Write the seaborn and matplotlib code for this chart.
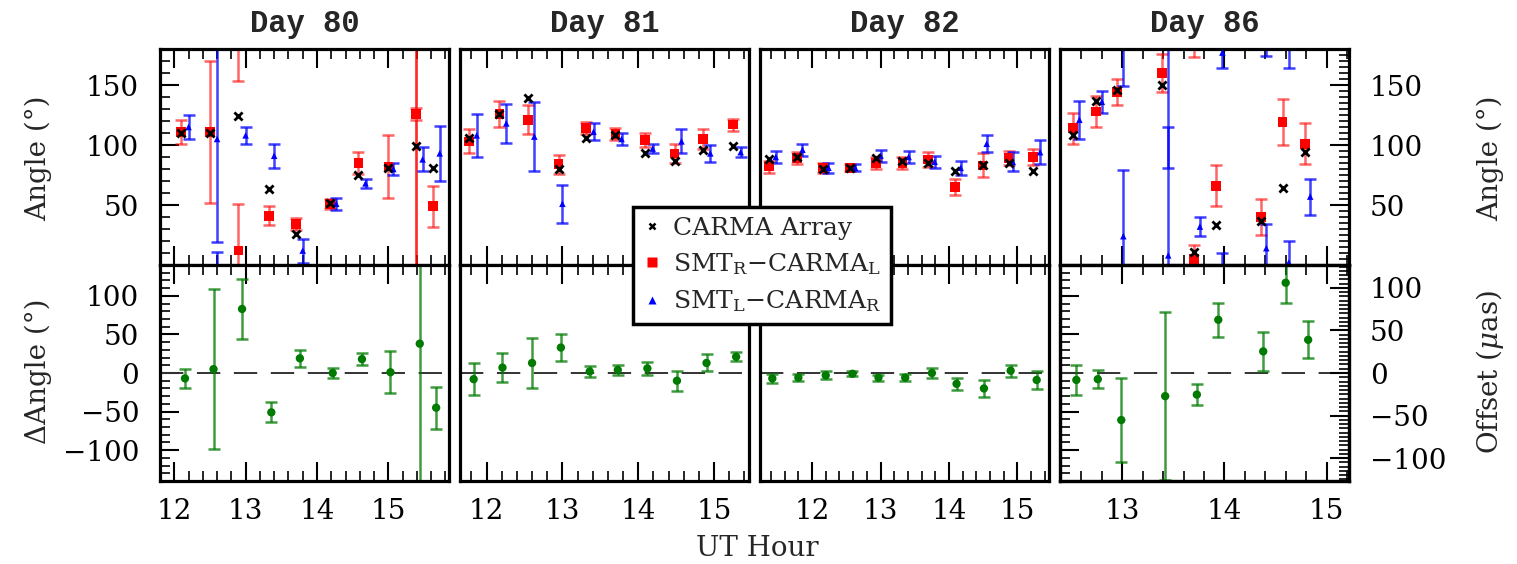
import numpy as np
import pandas as pd
import matplotlib
matplotlib.use("Agg")
import matplotlib.pyplot as plt
import seaborn as sns
from matplotlib.ticker import MultipleLocator, FixedLocator
from matplotlib.lines import Line2D

# ------------------------------------------------------------------ data
days = ["Day 80", "Day 81", "Day 82", "Day 86"]
x_limits = [(11.80, 15.85), (11.65, 15.46), (11.24, 15.46), (12.39, 15.22)]
angle_ticks = [50, 100, 150]

# Day 80
d80_red_x = [12.09, 12.50, 12.90, 13.33, 13.71, 14.18, 14.58, 15.00, 15.39, 15.63]
d80_red_y = [111, 111, 12, 41, 34, 51, 85, 82, 126, 49]
d80_red_e = [10, 59, 39, 8, 5, 4, 9, 26, 175, 17]
d80_carma_y = [110, 110, 124, 63, 26, 52, 75, 81, 99, 81]
d80_blue_x = [12.20, 12.60, 13.00, 13.40, 13.80, 14.27, 14.68, 15.07, 15.48, 15.72]
d80_blue_y = [115, 105, 108, 91, 12, 51, 68, 80, 88, 93]
d80_blue_e = [10, 86, 7, 10, 10, 5, 4, 5, 10, 23]
d80_diff_x = [12.15, 12.55, 12.95, 13.36, 13.76, 14.22, 14.63, 15.03, 15.44, 15.67]
d80_diff_y = [-7, 5, 83, -51, 19, 0, 18, 1, 38, -45]
d80_diff_e = [12, 104, 39, 13, 11, 6, 8, 27, 250, 27]

# Day 81
d81_red_x = [11.77, 12.17, 12.55, 12.95, 13.31, 13.70, 14.09, 14.48, 14.85, 15.25]
d81_red_y = [103, 126, 121, 84, 114, 109, 104, 93, 105, 117]
d81_red_e = [10, 11, 12, 8, 5, 5, 6, 8, 8, 5]
d81_carma_y = [106, 126, 139, 80, 106, 108, 93, 87, 96, 99]
d81_blue_x = [11.87, 12.26, 12.63, 13.00, 13.41, 13.78, 14.19, 14.57, 14.95, 15.35]
d81_blue_y = [108, 118, 107, 51, 111, 105, 97, 103, 93, 94]
d81_blue_e = [18, 16, 29, 16, 7, 5, 4, 10, 7, 4]
d81_diff_x = [11.83, 12.21, 12.60, 12.98, 13.36, 13.73, 14.12, 14.51, 14.90, 15.29]
d81_diff_y = [-8, 7, 13, 33, 2, 4, 6, -10, 13, 21]
d81_diff_e = [21, 19, 32, 17, 7, 6, 8, 13, 11, 6]

# Day 82
d82_red_x = [11.37, 11.78, 12.16, 12.55, 12.93, 13.32, 13.69, 14.09, 14.49, 14.87, 15.23]
d82_red_y = [82, 89, 81, 81, 85, 85, 88, 65, 83, 89, 90]
d82_red_e = [5, 5, 4, 3, 5, 5, 6, 7, 10, 6, 7]
d82_carma_y = [88, 90, 80, 81, 89, 87, 85, 78, 83, 85, 78]
d82_blue_x = [11.47, 11.86, 12.24, 12.63, 13.00, 13.41, 13.79, 14.17, 14.55, 14.93, 15.33]
d82_blue_y = [90, 96, 81, 81, 91, 90, 86, 81, 101, 86, 94]
d82_blue_e = [5, 5, 4, 3, 5, 5, 5, 6, 7, 8, 10]
d82_diff_x = [11.42, 11.80, 12.20, 12.59, 12.97, 13.36, 13.75, 14.11, 14.51, 14.90, 15.28]
d82_diff_y = [-7, -6, -3, -1, -6, -6, 0, -14, -20, 3, -9]
d82_diff_e = [6, 5, 5, 3, 4, 5, 6, 8, 11, 8, 12]

# Day 86
d86_red_x = [12.52, 12.74, 12.95, 13.39, 13.70, 13.92, 14.36, 14.57, 14.79]
d86_red_y = [114, 128, 144, 160, 5, 66, 40, 119, 101]
d86_red_e = [13, 13, 11, 16, 12, 17, 15, 19, 17]
d86_carma_y = [108, 137, 146, 150, 11, 33, 37, 64, 94]
d86_blue_x = [12.58, 12.80, 13.01, 13.45, 13.76, 13.98, 14.41, 14.63, 14.84]
d86_blue_y = [121, 136, 24, 8, 32, 177, 14, 2, 57]
d86_blue_e = [16, 9, 55, 107, 8, 13, 20, 18, 15]
d86_diff_x = [12.55, 12.76, 12.99, 13.42, 13.73, 13.94, 14.38, 14.60, 14.82]
d86_diff_y = [-9, -8, -61, -30, -28, 69, 28, 117, 43]
d86_diff_e = [19, 12, 55, 109, 14, 22, 25, 26, 24]

series = [
    (d80_red_x, d80_red_y, d80_red_e, d80_carma_y, d80_blue_x, d80_blue_y, d80_blue_e, d80_diff_x, d80_diff_y, d80_diff_e),
    (d81_red_x, d81_red_y, d81_red_e, d81_carma_y, d81_blue_x, d81_blue_y, d81_blue_e, d81_diff_x, d81_diff_y, d81_diff_e),
    (d82_red_x, d82_red_y, d82_red_e, d82_carma_y, d82_blue_x, d82_blue_y, d82_blue_e, d82_diff_x, d82_diff_y, d82_diff_e),
    (d86_red_x, d86_red_y, d86_red_e, d86_carma_y, d86_blue_x, d86_blue_y, d86_blue_e, d86_diff_x, d86_diff_y, d86_diff_e),
]

legend_labels = ["CARMA Array",
                 r"SMT$_\mathregular{R}$−CARMA$_\mathregular{L}$",
                 r"SMT$_\mathregular{L}$−CARMA$_\mathregular{R}$"]

# ------------------------------------------------------------------ style
sns.set_theme(style="ticks")
plt.rcParams["font.family"] = ["DejaVu Serif"]
plt.rcParams["mathtext.fontset"] = "dejavuserif"
plt.rcParams["axes.unicode_minus"] = True

RED, BLUE, GREEN = "#ff0000", "#0000ff", "#007a00"

W, H = 1517, 564
fig = plt.figure(figsize=(W / 100, H / 100), dpi=100)
lefts = [160, 460, 760, 1060]
width = 289
y_top, y_mid, y_bot = 49, 265, 481


def style_axis(ax, left=False, right=False, xlabels=False):
    ax.tick_params(which="both", direction="in", top=True, bottom=True,
                   left=left, right=right, labelleft=left and not right,
                   labelright=right, labelbottom=xlabels, labeltop=False,
                   colors="black", labelsize=20)
    ax.tick_params(which="major", length=14, width=1.5)
    ax.tick_params(which="minor", length=7, width=1.2)
    ax.tick_params(axis="x", pad=12)
    ax.tick_params(axis="y", pad=15)
    ax.xaxis.set_major_locator(MultipleLocator(1))
    ax.xaxis.set_minor_locator(MultipleLocator(0.2))
    for sp in ax.spines.values():
        sp.set_visible(True)
        sp.set_linewidth(2.3)
        sp.set_color("black")
    ax.set_xlabel("")
    ax.set_ylabel("")
    ax.set_facecolor("white")


def err(ax, x, y, e, color, alpha, wrap):
    shifts = [0, -180, 180] if wrap else [0]
    for s in shifts:
        ax.errorbar(np.asarray(x, float), np.asarray(y, float) + s, yerr=e,
                    fmt="none", ecolor=color, elinewidth=1.8, capsize=4.5,
                    capthick=1.8, alpha=alpha, zorder=2)


for i in range(4):
    rx, ry, re, cy, bx, by, be, gx, gy, ge = series[i]
    l = lefts[i] / W
    w = width / W
    ax_t = fig.add_axes([l, 1 - y_mid / H, w, (y_mid - y_top) / H])
    ax_b = fig.add_axes([l, 1 - y_bot / H, w, (y_bot - y_mid) / H])

    # ---- top: angles
    err(ax_t, rx, ry, re, RED, 0.6, True)
    err(ax_t, bx, by, be, BLUE, 0.75, True)
    df_r = pd.DataFrame({"x": rx, "y": ry})
    df_c = pd.DataFrame({"x": rx, "y": cy})
    df_b = pd.DataFrame({"x": bx, "y": by})
    sns.scatterplot(data=df_r, x="x", y="y", ax=ax_t, color=RED, marker="s",
                    s=48, edgecolor="none", zorder=4, legend=False)
    sns.scatterplot(data=df_b, x="x", y="y", ax=ax_t, color=BLUE, marker="^",
                    s=22, edgecolor="none", zorder=4, legend=False)
    sns.scatterplot(data=df_c, x="x", y="y", ax=ax_t, color="black", marker="x",
                    s=34, linewidth=2.0, zorder=5, legend=False)
    ax_t.set_xlim(*x_limits[i])
    ax_t.set_ylim(0, 180)
    ax_t.yaxis.set_major_locator(FixedLocator(angle_ticks))
    ax_t.yaxis.set_minor_locator(MultipleLocator(10))

    # ---- bottom: angle differences
    ax_b.axhline(0, color="#333333", lw=1.4, ls=(0, (12, 7)), zorder=1)
    err(ax_b, gx, gy, ge, GREEN, 0.75, False)
    df_g = pd.DataFrame({"x": gx, "y": gy})
    sns.scatterplot(data=df_g, x="x", y="y", ax=ax_b, color=GREEN, marker="o",
                    s=36, edgecolor="none", zorder=4, legend=False)
    ax_b.set_xlim(*x_limits[i])
    ax_b.set_ylim(-140, 140)
    ax_b.yaxis.set_major_locator(MultipleLocator(50))
    ax_b.yaxis.set_minor_locator(MultipleLocator(10))

    style_axis(ax_t, left=(i == 0), right=(i == 3), xlabels=False)
    style_axis(ax_b, left=(i == 0), right=False, xlabels=True)
    if i == 3:
        ax_t.yaxis.set_minor_locator(MultipleLocator(5))
        ax_r = ax_b.twinx()
        ax_r.set_ylim(-127, 127)
        ax_r.yaxis.set_major_locator(MultipleLocator(50))
        ax_r.yaxis.set_minor_locator(MultipleLocator(5))
        ax_r.tick_params(which="both", direction="in", left=False, right=True,
                         top=False, bottom=False, labelright=True,
                         labelleft=False, labelsize=20, pad=15, colors="black")
        ax_r.tick_params(which="major", length=14, width=1.5)
        ax_r.tick_params(which="minor", length=7, width=1.2)
        for sp in ax_r.spines.values():
            sp.set_linewidth(2.3)
            sp.set_color("black")
        ax_r.set_ylabel("")

    fig.text((lefts[i] + width / 2) / W, 1 - 24 / H, days[i], ha="center",
             va="center", fontsize=22, family="Liberation Mono",
             fontweight="bold")

# axis labels
fig.text(38 / W, 1 - 158 / H, "Angle (°)", rotation=90, ha="center",
         va="center", fontsize=20)
fig.text(38 / W, 1 - 371 / H, "ΔAngle (°)", rotation=90, ha="center",
         va="center", fontsize=20)
fig.text(1490 / W, 1 - 158 / H, "Angle (°)", rotation=90, ha="center",
         va="center", fontsize=20)
fig.text(1490 / W, 1 - 372 / H, r"Offset ($\mu$as)", rotation=90, ha="center",
         va="center", fontsize=20)
fig.text(757 / W, 1 - 548 / H, "UT Hour", ha="center", va="center",
         fontsize=20)

# legend
handles = [Line2D([], [], ls="none", marker="x", color="black", ms=5, mew=1.8),
           Line2D([], [], ls="none", marker="s", color=RED, ms=7, mec="none"),
           Line2D([], [], ls="none", marker="^", color=BLUE, ms=5.5, mec="none")]
leg = fig.legend(handles, legend_labels, loc="center",
                 bbox_to_anchor=(762 / W, 1 - 265.5 / H), frameon=True,
                 fancybox=False, edgecolor="black", framealpha=1,
                 fontsize=18, handlelength=0.7, handletextpad=0.5,
                 borderpad=0.4, labelspacing=0.45, borderaxespad=0)
leg.get_frame().set_linewidth(2.5)
leg.set_zorder(20)

fig.savefig("out.png", dpi=100, facecolor="white")
